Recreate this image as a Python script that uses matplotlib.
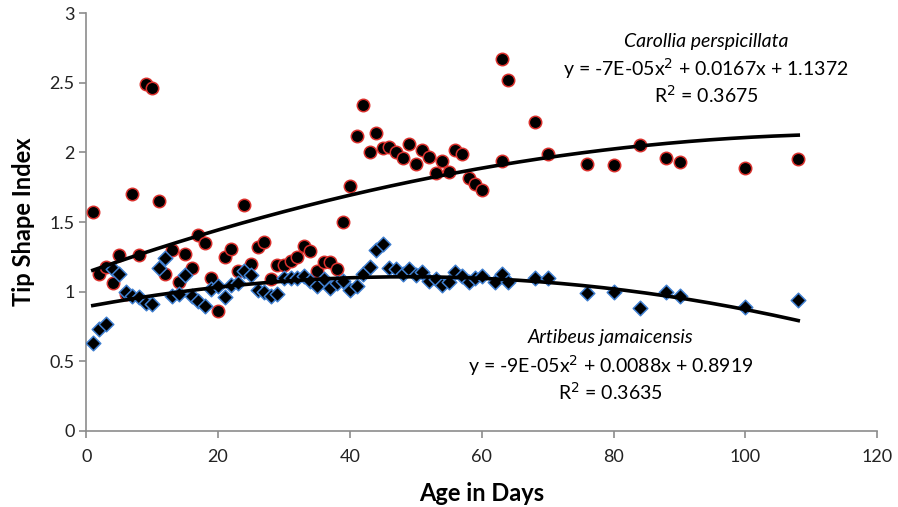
import numpy as np
import matplotlib
matplotlib.use("Agg")
import matplotlib.pyplot as plt

plt.rcParams['font.family'] = ['Lato', 'DejaVu Sans']

# Carollia perspicillata (red circles)
carollia_age = [1, 2, 3, 4, 5, 6, 7, 8, 9, 10, 11, 12, 13, 14, 15, 16, 17, 18, 19, 20,
                21, 22, 23, 24, 25, 26, 27, 28, 29, 30, 31, 32, 33, 34, 35, 36, 37, 38, 39, 40,
                41, 42, 43, 44, 45, 46, 47, 48, 49, 50, 51, 52, 53, 54, 55, 56, 57, 58, 59, 60,
                63, 63, 64, 68, 70, 76, 80, 84, 88, 90, 100, 108]
carollia_tsi = [1.57, 1.13, 1.18, 1.06, 1.26, 0.98, 1.70, 1.26, 2.49, 2.46, 1.65, 1.13, 1.30, 1.07, 1.27, 1.17, 1.41, 1.35, 1.10, 0.86,
                1.25, 1.31, 1.15, 1.62, 1.20, 1.32, 1.36, 1.09, 1.19, 1.19, 1.22, 1.25, 1.33, 1.29, 1.15, 1.21, 1.21, 1.16, 1.50, 1.76,
                2.12, 2.34, 2.00, 2.14, 2.03, 2.04, 2.00, 1.96, 2.06, 1.92, 2.02, 1.97, 1.85, 1.94, 1.86, 2.02, 1.99, 1.82, 1.77, 1.73,
                1.94, 2.67, 2.52, 2.22, 1.99, 1.92, 1.91, 2.05, 1.96, 1.93, 1.89, 1.95]

# Artibeus jamaicensis (blue diamonds)
artibeus_age = [1, 2, 3, 4, 5, 6, 7, 8, 9, 10, 11, 12, 13, 14, 15, 16, 17, 18, 19, 20,
                21, 22, 23, 24, 25, 26, 27, 28, 29, 30, 31, 32, 33, 34, 35, 36, 37, 38, 39, 40,
                41, 42, 43, 44, 45, 46, 47, 48, 49, 50, 51, 52, 53, 54, 55, 56, 57, 58, 59, 60,
                62, 63, 64, 68, 70, 76, 80, 84, 88, 90, 100, 108]
artibeus_tsi = [0.63, 0.73, 0.77, 1.16, 1.13, 1.00, 0.97, 0.96, 0.92, 0.91, 1.17, 1.24, 0.97, 0.98, 1.12, 0.97, 0.93, 0.90, 1.02, 1.04,
                0.96, 1.05, 1.06, 1.15, 1.12, 1.01, 1.00, 0.97, 0.98, 1.10, 1.10, 1.10, 1.11, 1.08, 1.04, 1.09, 1.03, 1.06, 1.08, 1.01,
                1.04, 1.13, 1.18, 1.30, 1.34, 1.17, 1.16, 1.13, 1.16, 1.12, 1.14, 1.08, 1.09, 1.05, 1.07, 1.14, 1.11, 1.07, 1.10, 1.11,
                1.07, 1.13, 1.07, 1.10, 1.10, 0.99, 1.00, 0.88, 1.00, 0.97, 0.89, 0.94]

# published trend lines
carollia_fit = [-7e-05, 0.0167, 1.1372]
artibeus_fit = [-9e-05, 0.0088, 0.8919]

fig = plt.figure(figsize=(8.98, 5.07), dpi=100)
ax = fig.add_axes([0.096, 0.150, 0.881, 0.824])

ax.scatter(carollia_age, carollia_tsi, s=80, marker='o', facecolor='black',
           edgecolor='#d9302c', linewidth=1.1, zorder=3)
ax.scatter(artibeus_age, artibeus_tsi, s=55, marker='D', facecolor='black',
           edgecolor='#3f7fd0', linewidth=1.1, zorder=3)

xs = np.linspace(1, 108, 200)
ax.plot(xs, np.polyval(carollia_fit, xs), color='black', lw=2.6, zorder=4)
ax.plot(xs, np.polyval(artibeus_fit, xs), color='black', lw=2.6, zorder=4)

ax.set_xlim(0, 120)
ax.set_ylim(0, 3)
ax.set_xticks(np.arange(0, 121, 20))
ax.set_yticks([0, 0.5, 1, 1.5, 2, 2.5, 3])
ax.set_yticklabels(['0', '0.5', '1', '1.5', '2', '2.5', '3'])

for s in ['top', 'right']:
    ax.spines[s].set_visible(False)
for s in ['left', 'bottom']:
    ax.spines[s].set_color('#8c8c8c')
    ax.spines[s].set_linewidth(1.2)
ax.tick_params(colors='#8c8c8c', labelcolor='#222222', labelsize=13, length=5, width=1.2)
ax.tick_params(axis='x', pad=8)

ax.set_xlabel('Age in Days', fontsize=17, fontweight='bold', labelpad=12)
ax.set_ylabel('Tip Shape Index', fontsize=17, fontweight='bold', labelpad=10)

ax.text(94.0, 2.80, 'Carollia perspicillata', fontsize=14, style='italic', ha='center', va='center')
ax.text(94.0, 2.60, 'y = -7E-05x$^2$ + 0.0167x + 1.1372', fontsize=14, ha='center', va='center')
ax.text(94.0, 2.41, 'R$^2$ = 0.3675', fontsize=14, ha='center', va='center')

ax.text(79.5, 0.67, 'Artibeus jamaicensis', fontsize=14, style='italic', ha='center', va='center')
ax.text(79.5, 0.47, 'y = -9E-05x$^2$ + 0.0088x + 0.8919', fontsize=14, ha='center', va='center')
ax.text(79.5, 0.28, 'R$^2$ = 0.3635', fontsize=14, ha='center', va='center')

fig.savefig('out.png', dpi=100)
